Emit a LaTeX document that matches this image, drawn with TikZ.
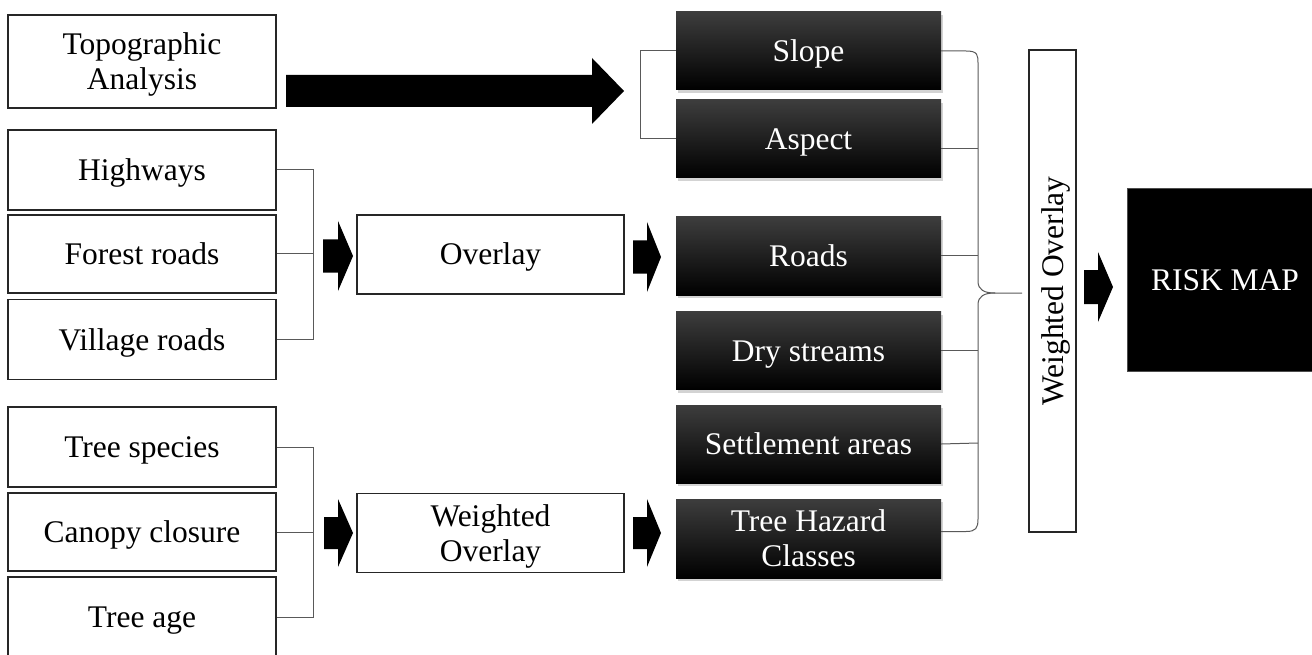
\documentclass[tikz,border=0pt]{standalone}
\usepackage{fontspec}
\setmainfont{Liberation Serif}
\usetikzlibrary{shadows,calc}

% block arrow: tail x, head x, tip x, centre y, half shaft, half head
\newcommand{\blockarrow}[6]{%
  \fill (#1,#4-#5) -- (#2,#4-#5) -- (#2,#4-#6) -- (#3,#4)
        -- (#2,#4+#6) -- (#2,#4+#5) -- (#1,#4+#5) -- cycle;}

\begin{document}
\begin{tikzpicture}[x=1pt,y=-1pt,
  every node/.style={font=\fontsize{31.5}{35}\selectfont, text height=28pt, text depth=7pt},
  twolines/.style={text height=63pt},
  inbox/.style={draw=black!85, line width=1.6pt, fill=white, minimum width=268,
    minimum height=80, inner sep=0pt, align=center},
  darkbox/.style={top color=black!76, middle color=black, bottom color=black,
    text=white, minimum width=265, minimum height=78, inner sep=0pt, align=center,
    drop shadow={shadow xshift=2pt, shadow yshift=-3pt, opacity=0.35}},
  bracket/.style={draw=black!65, line width=1pt},
  ]
  \clip (0,0) rectangle (1312,655);

  % inputs
  \node[inbox, twolines, minimum height=93] (topo) at (142,61.5) {Topographic\\Analysis};
  \node[inbox] (hw) at (142,170) {Highways};
  \node[inbox, minimum height=78] (fr) at (142,254) {Forest roads};
  \node[inbox] (vr) at (142,339.5) {Village roads};
  \node[inbox] (ts) at (142,447) {Tree species};
  \node[inbox, minimum height=78] (cc) at (142,532) {Canopy closure};
  \node[inbox] (ta) at (142,617) {Tree age};

  % intermediate steps
  \node[inbox, minimum width=267, minimum height=79] (ov) at (490.5,254.5) {Overlay};
  \node[inbox, twolines, minimum width=267, minimum height=79] (wo) at (490.5,533) {Weighted\\Overlay};

  % layers
  \node[darkbox] (slope) at (808.5,51) {Slope};
  \node[darkbox] (aspect) at (808.5,139) {Aspect};
  \node[darkbox] (roads) at (808.5,256) {Roads};
  \node[darkbox] (dry) at (808.5,350.5) {Dry streams};
  \node[darkbox] (settle) at (808.5,444) {Settlement areas};
  \node[darkbox, twolines, minimum height=79] (haz) at (808.5,538.5) {Tree Hazard\\Classes};

  % final overlay and result
  \node[inbox, rotate=90, minimum width=482, minimum height=47] (wov) at (1052.5,291) {Weighted Overlay};
  \node[fill=black, draw=black!70, text=white, minimum width=196, minimum height=183,
    inner sep=0pt] (risk) at (1225,279.5) {RISK MAP};

  % brackets
  \draw[bracket] (hw.east) -- ++(37,0) |- (vr.east);
  \draw[bracket] (fr.east) -- ++(37,0);
  \draw[bracket] (ts.east) -- ++(37,0) |- (ta.east);
  \draw[bracket] (cc.east) -- ++(37,0);
  \draw[bracket] (slope.west) -- ++(-35,0) |- (aspect.west);

  % brace into weighted overlay
  \draw[bracket] (slope.east) -- (966,51) .. controls (978,51) and (978,55) .. (978,64)
    -- (978,281) .. controls (978,290) and (984,293) .. (995,293) -- (1022,293);
  \draw[bracket] (995,293) .. controls (984,293) and (978,296) .. (978,305)
    -- (978,519) .. controls (978,528) and (976,531.5) .. (966,531.5) -- ([yshift=7pt]haz.east);
  \draw[bracket] ([yshift=-10pt]aspect.east) -- (978,149);
  \draw[bracket] (roads.east) -- (978,256);
  \draw[bracket] (dry.east) -- (978,350.5);
  \draw[bracket] (settle.east) -- (978,443);

  % arrows
  \blockarrow{286}{592}{624}{91}{16}{33}
  \blockarrow{323}{338}{353}{256}{16.5}{35}
  \blockarrow{633}{647}{661}{257}{16.5}{35}
  \blockarrow{324}{338}{353}{533}{16}{34}
  \blockarrow{633}{647}{661}{533}{16}{34}
  \blockarrow{1084}{1098}{1113}{287}{17}{35}
\end{tikzpicture}
\end{document}
